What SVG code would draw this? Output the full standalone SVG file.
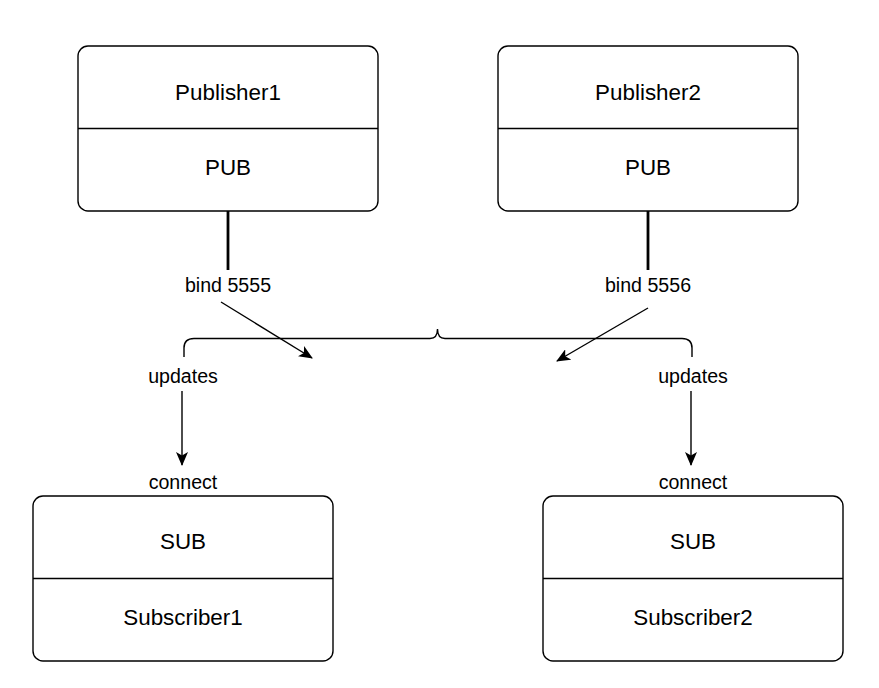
<svg xmlns="http://www.w3.org/2000/svg" width="879" height="688" viewBox="0 0 879 688">
<defs>
<style>
.box{fill:#fff;stroke:#000;stroke-width:1.4}
.div{stroke:#000;stroke-width:1.4;fill:none}
.t{font-family:"Liberation Sans",Arial,sans-serif;font-size:22.4px;text-anchor:middle;fill:#000}
.l{font-family:"Liberation Sans",Arial,sans-serif;font-size:19.6px;text-anchor:middle;fill:#000}
.c{stroke:#000;stroke-width:1.4;fill:none}
.thick{stroke:#000;stroke-width:2.8;fill:none}
</style>
<marker id="ah" viewBox="0 0 14 12" refX="13" refY="6" markerWidth="14" markerHeight="12" markerUnits="userSpaceOnUse" orient="auto">
<path d="M0,0 L14,6 L0,12 L3.5,6 Z" fill="#000"/>
</marker>
</defs>
<rect width="879" height="688" fill="#fff"/>
<g id="publisher1">
<rect class="box" x="78" y="46" width="300" height="165" rx="10"/>
<line class="div" x1="78" y1="128.5" x2="378" y2="128.5"/>
<text class="t" x="228" y="100">Publisher1</text>
<text class="t" x="228" y="175">PUB</text>
</g>
<g id="publisher2">
<rect class="box" x="498" y="46" width="300" height="165" rx="10"/>
<line class="div" x1="498" y1="128.5" x2="798" y2="128.5"/>
<text class="t" x="648" y="100">Publisher2</text>
<text class="t" x="648" y="175">PUB</text>
</g>
<g id="subscriber1">
<rect class="box" x="33" y="496" width="300" height="165" rx="10"/>
<line class="div" x1="33" y1="578.5" x2="333" y2="578.5"/>
<text class="t" x="183" y="549">SUB</text>
<text class="t" x="183" y="625">Subscriber1</text>
</g>
<g id="subscriber2">
<rect class="box" x="543" y="496" width="300" height="165" rx="10"/>
<line class="div" x1="543" y1="578.5" x2="843" y2="578.5"/>
<text class="t" x="693" y="549">SUB</text>
<text class="t" x="693" y="625">Subscriber2</text>
</g>
<g id="connectors">
<line class="thick" x1="228" y1="211" x2="228" y2="270"/>
<line class="thick" x1="648" y1="211" x2="648" y2="270"/>
<text class="l" x="228" y="292">bind 5555</text>
<text class="l" x="648" y="292">bind 5556</text>
<line class="c" x1="221" y1="302" x2="312" y2="358" marker-end="url(#ah)"/>
<line class="c" x1="648" y1="308" x2="557" y2="361" marker-end="url(#ah)"/>
<path class="c" d="M184,357 L184,348 Q184,338.5 194,338.5 L430,338.5 Q437.5,338.5 437.5,329 Q437.5,338.5 445,338.5 L682,338.5 Q692,338.5 692,348 L692,357"/>
<text class="l" x="183" y="383">updates</text>
<text class="l" x="693" y="383">updates</text>
<line class="c" x1="182" y1="391" x2="182" y2="465" marker-end="url(#ah)"/>
<line class="c" x1="691" y1="391" x2="691" y2="465" marker-end="url(#ah)"/>
<text class="l" x="183" y="489">connect</text>
<text class="l" x="693" y="489">connect</text>
</g>
</svg>
